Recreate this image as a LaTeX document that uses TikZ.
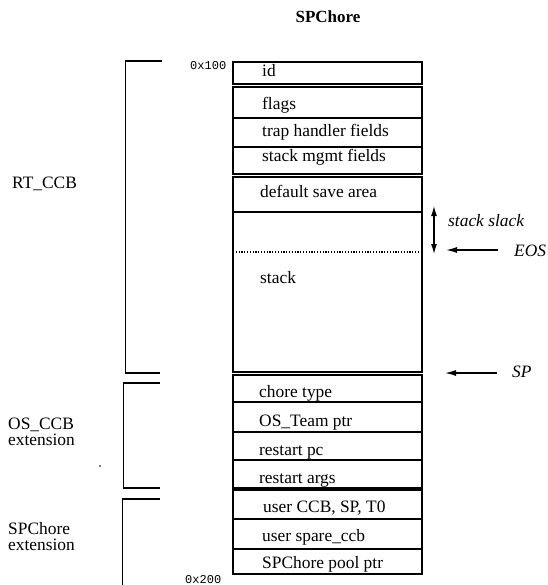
\documentclass[tikz,border=0pt]{standalone}
\usepackage{fontspec}
\setmainfont{Liberation Serif}
\newfontfamily\hexfont{Liberation Mono}
\usetikzlibrary{arrows.meta}
\tikzset{
  field/.style={draw=black, line width=1.4pt},
  ftext/.style={anchor=base west, inner sep=0pt, font=\fontsize{17.4}{19}\selectfont},
  side/.style={anchor=base west, inner sep=0pt, font=\fontsize{17.4}{19}\selectfont},
  note/.style={anchor=base west, inner sep=0pt, font=\fontsize{17.4}{19}\selectfont\itshape},
  hex/.style={anchor=base west, inner sep=0pt, font=\hexfont\fontsize{12}{13}\selectfont},
  brace/.style={draw=black, line width=1.3pt},
  ptr/.style={draw=black, line width=1.3pt, -{Latex[length=11pt,width=6pt]}},
  slack/.style={draw=black, line width=1.2pt, {Latex[length=10pt,width=6pt]}-{Latex[length=10pt,width=6pt]}},
}
\begin{document}
\begin{tikzpicture}[x=1pt,y=-1pt]
\useasboundingbox (0,0) rectangle (547,585);

% title
\node[anchor=base, inner sep=0pt, font=\fontsize{17}{19}\selectfont\bfseries] (title) at (328,23) {SPChore};

% field boxes
\draw[field] (233,62) rectangle (422,84);
\draw[field] (233,87) rectangle (422,118);
\draw[field] (233,118) rectangle (422,147);
\draw[field] (233,147) rectangle (422,174);
\draw[field] (233,177) rectangle (422,212);
\draw[field] (233,212) rectangle (422,372);
\draw[field] (233,375) rectangle (422,402);
\draw[field] (233,402) rectangle (422,432);
\draw[field] (233,432) rectangle (422,460);
\draw[field] (233,460) rectangle (422,488);
\draw[field] (233,490) rectangle (422,519);
\draw[field] (233,519) rectangle (422,549);
\draw[field] (233,549) rectangle (422,574);
\draw[black, line width=1.1pt, dash pattern=on 1.2pt off 1.6pt] (233,252) -- (422,252);

% field texts
\node[ftext] (fid) at (262,77) {id};
\node[ftext] (fflags) at (262,110) {flags};
\node[ftext] (ftrap) at (262,137) {trap handler fields};
\node[ftext] (fmgmt) at (262,162) {stack mgmt fields};
\node[ftext] (fsave) at (260,197) {default save area};
\node[ftext] (fstack) at (260,283) {stack};
\node[ftext] (fchore) at (259,397) {chore type};
\node[ftext] (fteam) at (259,426) {OS\_Team ptr};
\node[ftext] (fpc) at (259,455) {restart pc};
\node[ftext] (fargs) at (259,483) {restart args};
\node[ftext] (fuser) at (263,512) {user CCB, SP, T0};
\node[ftext] (fspare) at (262,541) {user spare\_ccb};
\node[ftext] (fpool) at (262,568) {SPChore pool ptr};

% addresses
\node[hex] (h100) at (190,70) {0x100};
\node[hex] (h200) at (185,583) {0x200};

% left brackets
\draw[brace] (162,61) -- (125.5,61) -- (125.5,373) -- (160,373);
\draw[brace] (160,383) -- (123.5,383) -- (123.5,488) -- (160,488);
\draw[brace] (160,499) -- (122.5,499) -- (122.5,585);

% left labels
\node[side] (lrt) at (12,189) {RT\_CCB};
\node[side] (los) at (8,429) {OS\_CCB};
\node[side] (losx) at (8,445) {extension};
\node[side] (lsp) at (8,534) {SPChore};
\node[side] (lspx) at (8,550) {extension};
\fill[black] (100,466) circle (0.9pt);

% right annotations
\coordinate (slacktop) at (434,206);
\coordinate (slackbot) at (434,254);
\draw[slack] (slacktop) -- (slackbot);
\node[note] (tslack) at (448,226) {stack slack};

\node[note] (teos) at (514,256) {EOS};
\coordinate (eosfrom) at (498,250);
\coordinate (eosto) at (446,250);
\draw[ptr] (eosfrom) -- (eosto);

\node[note] (tsp) at (512,377) {SP};
\coordinate (spfrom) at (497,373);
\coordinate (spto) at (445,373);
\draw[ptr] (spfrom) -- (spto);
\end{tikzpicture}
\end{document}
